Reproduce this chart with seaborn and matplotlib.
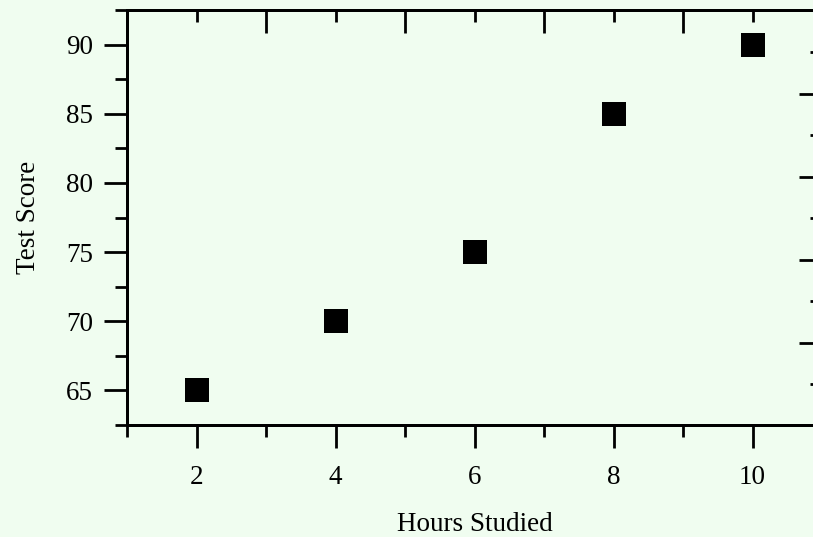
import matplotlib
matplotlib.use("Agg")
import matplotlib.pyplot as plt
import seaborn as sns
import pandas as pd
from matplotlib.ticker import FixedLocator

# Data
hours = [2, 4, 6, 8, 10]
scores = [65, 70, 75, 85, 90]

# Axis settings
x_limits = (1, 11)
y_limits = (62.5, 92.5)
x_major = [2, 4, 6, 8, 10]
x_minor = [1, 3, 5, 7, 9, 11]
y_major = [65, 70, 75, 80, 85, 90]
y_minor = [62.5, 67.5, 72.5, 77.5, 82.5, 87.5, 92.5]
top_major = [1, 3, 5, 7, 9, 11]
top_minor = [2, 4, 6, 8, 10]
right_major = [68.45, 74.45, 80.45, 86.45]
right_minor = [65.45, 71.45, 77.45, 83.45, 89.45]

bg = "#F0FDF0"
sns.set_style("white")
plt.rcParams["font.family"] = ["Liberation Serif", "DejaVu Serif"]
plt.rcParams["axes.edgecolor"] = "black"

fig = plt.figure(figsize=(8.13, 5.37), dpi=100, facecolor=bg)
ax = fig.add_axes([127/813, (537-425)/537, 695/813, 415/537])
ax.set_facecolor(bg)

df = pd.DataFrame({"Hours Studied": hours, "Test Score": scores})
sns.scatterplot(data=df, x="Hours Studied", y="Test Score", marker="s",
                color="black", s=300, linewidth=0, ax=ax, zorder=5)

ax.set_xlim(*x_limits)
ax.set_ylim(*y_limits)
ax.xaxis.set_major_locator(FixedLocator(x_major))
ax.xaxis.set_minor_locator(FixedLocator(x_minor))
ax.yaxis.set_major_locator(FixedLocator(y_major))
ax.yaxis.set_minor_locator(FixedLocator(y_minor))
ax.set_xticklabels([str(v) for v in x_major])
ax.set_yticklabels([str(v) for v in y_major])

lw = 2.0
fs = 19.5
for sp in ax.spines.values():
    sp.set_linewidth(lw)
    sp.set_color("black")

ax.tick_params(axis="both", which="major", direction="out", length=16.5, width=lw,
               color="black", labelsize=fs, labelcolor="black")
ax.tick_params(axis="both", which="minor", direction="out", length=8.5, width=lw, color="black")
ax.tick_params(axis="x", which="major", pad=12)
ax.tick_params(axis="y", which="major", pad=8)

ax.set_xlabel("Hours Studied", fontsize=fs, labelpad=16, color="black")
ax.set_ylabel("Test Score", fontsize=fs, labelpad=18, color="black")

# Top axis (inward ticks, no labels)
axt = ax.twiny()
axt.set_xlim(*x_limits)
axt.xaxis.set_major_locator(FixedLocator(top_major))
axt.xaxis.set_minor_locator(FixedLocator(top_minor))
axt.tick_params(axis="x", which="major", direction="in", length=16.5, width=lw,
                color="black", labeltop=False)
axt.tick_params(axis="x", which="minor", direction="in", length=8.5, width=lw, color="black")
axt.yaxis.set_visible(False)
for sp in axt.spines.values():
    sp.set_linewidth(lw)
    sp.set_color("black")

# Right axis (inward ticks, no labels)
axr = ax.twinx()
axr.set_ylim(*y_limits)
axr.yaxis.set_major_locator(FixedLocator(right_major))
axr.yaxis.set_minor_locator(FixedLocator(right_minor))
axr.tick_params(axis="y", which="major", direction="in", length=16.5, width=lw,
                color="black", labelright=False)
axr.tick_params(axis="y", which="minor", direction="in", length=8.5, width=lw, color="black")
for sp in axr.spines.values():
    sp.set_linewidth(lw)
    sp.set_color("black")

fig.savefig("out.png", dpi=100, facecolor=bg)
